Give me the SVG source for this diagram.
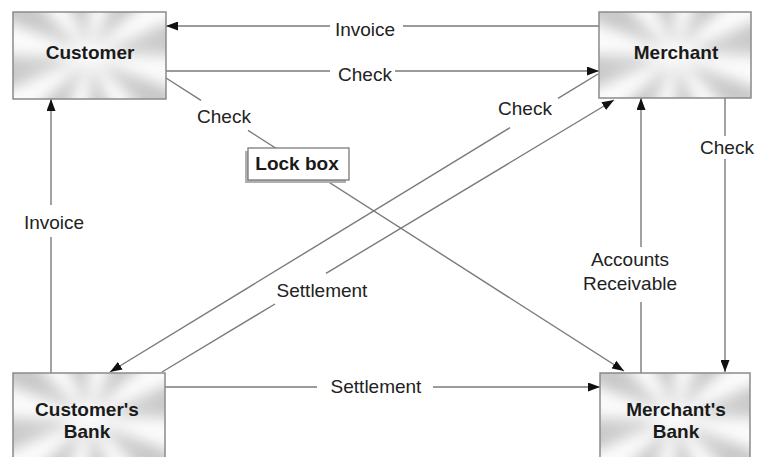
<svg xmlns="http://www.w3.org/2000/svg" xmlns:xlink="http://www.w3.org/1999/xlink" width="757" height="457" viewBox="0 0 757 457">
<style>
  .base{fill:#c9c9c9}
  .ray{fill:#fbfbfb}
  .frame{fill:none;stroke:#8a8a8a;stroke-width:1.5}
  .node{font-family:"Liberation Sans",Arial,sans-serif;font-weight:bold;font-size:19px;fill:#1a1a1a;text-anchor:middle}
  .lbl{font-family:"Liberation Sans",Arial,sans-serif;font-size:19px;fill:#222;text-anchor:middle}
  .ln{stroke:#7a7a7a;stroke-width:1.4;fill:none}
</style>
<defs>
  <filter id="soft" x="-30%" y="-30%" width="160%" height="160%"><feGaussianBlur stdDeviation="6.5"/></filter>
  <radialGradient id="glow" cx="50%" cy="50%" r="55%">
    <stop offset="0" stop-color="#ffffff" stop-opacity="0.9"/>
    <stop offset="0.45" stop-color="#ffffff" stop-opacity="0.25"/>
    <stop offset="1" stop-color="#ffffff" stop-opacity="0"/>
  </radialGradient>
  <path id="rays" d="M0,0 L110,0 L101.6,42.1 Z M0,0 L77.8,77.8 L42.1,101.6 Z M0,0 L0,110 L-42.1,101.6 Z M0,0 L-77.8,77.8 L-101.6,42.1 Z M0,0 L-110,0 L-101.6,-42.1 Z M0,0 L-77.8,-77.8 L-42.1,-101.6 Z M0,0 L0,-110 L42.1,-101.6 Z M0,0 L77.8,-77.8 L101.6,-42.1 Z"/>
  <clipPath id="c1"><rect x="13" y="12" width="153" height="87"/></clipPath>
  <clipPath id="c2"><rect x="599" y="12" width="152" height="86"/></clipPath>
  <clipPath id="c3"><rect x="13" y="373" width="152" height="90"/></clipPath>
  <clipPath id="c4"><rect x="600" y="373" width="150" height="90"/></clipPath>
  <marker id="ah" markerUnits="userSpaceOnUse" markerWidth="12" markerHeight="9" viewBox="0 0 12 9" refX="12" refY="4.5" orient="auto">
    <path d="M0,0 L12,4.5 L0,9 Z" fill="#111"/>
  </marker>
</defs>

<rect x="0" y="0" width="757" height="457" fill="#ffffff"/>

<g id="connectors">
  <line class="ln" x1="599" y1="26" x2="403" y2="26"/>
  <line class="ln" x1="330" y1="26" x2="166" y2="26" marker-end="url(#ah)"/>
  <text class="lbl" x="365" y="35.5">Invoice</text>

  <line class="ln" x1="166" y1="71" x2="330" y2="71"/>
  <line class="ln" x1="395" y1="71" x2="599" y2="71" marker-end="url(#ah)"/>
  <text class="lbl" x="365" y="80.5">Check</text>

  <line class="ln" x1="166" y1="78" x2="201" y2="100.4"/>
  <line class="ln" x1="248" y1="130.4" x2="624" y2="371" marker-end="url(#ah)"/>
  <text class="lbl" x="224" y="122.5">Check</text>

  <line class="ln" x1="598" y1="74" x2="558" y2="98.4"/>
  <line class="ln" x1="510" y1="127.7" x2="110" y2="372" marker-end="url(#ah)"/>
  <text class="lbl" x="525" y="115">Check</text>

  <line class="ln" x1="162" y1="372" x2="275" y2="304"/>
  <line class="ln" x1="326" y1="273.3" x2="614" y2="100" marker-end="url(#ah)"/>
  <text class="lbl" x="322" y="297">Settlement</text>

  <line class="ln" x1="51" y1="373" x2="51" y2="237"/>
  <line class="ln" x1="51" y1="205" x2="51" y2="99" marker-end="url(#ah)"/>
  <text class="lbl" x="54" y="228.5">Invoice</text>

  <line class="ln" x1="725" y1="98" x2="725" y2="136"/>
  <line class="ln" x1="725" y1="159" x2="725" y2="372" marker-end="url(#ah)"/>
  <text class="lbl" x="727" y="154">Check</text>

  <line class="ln" x1="641" y1="373" x2="641" y2="302"/>
  <line class="ln" x1="641" y1="247" x2="641" y2="98" marker-end="url(#ah)"/>
  <text class="lbl" x="630" y="266">Accounts</text>
  <text class="lbl" x="630" y="290">Receivable</text>

  <line class="ln" x1="165" y1="387" x2="317" y2="387"/>
  <line class="ln" x1="433" y1="387" x2="600" y2="387" marker-end="url(#ah)"/>
  <text class="lbl" x="376" y="393">Settlement</text>
</g>

<g id="customer">
  <g clip-path="url(#c1)">
    <rect class="base" x="13" y="12" width="153" height="87"/>
    <use xlink:href="#rays" href="#rays" class="ray" transform="translate(89.5,55.5)" filter="url(#soft)"/>
    <rect fill="url(#glow)" x="13" y="12" width="153" height="87"/>
  </g>
  <rect class="frame" x="13" y="12" width="153" height="87"/>
  <text class="node" x="90" y="59">Customer</text>
</g>

<g id="merchant">
  <g clip-path="url(#c2)">
    <rect class="base" x="599" y="12" width="152" height="86"/>
    <use xlink:href="#rays" href="#rays" class="ray" transform="translate(675,55)" filter="url(#soft)"/>
    <rect fill="url(#glow)" x="599" y="12" width="152" height="86"/>
  </g>
  <rect class="frame" x="599" y="12" width="152" height="86"/>
  <text class="node" x="676" y="59">Merchant</text>
</g>

<g id="customers-bank">
  <g clip-path="url(#c3)">
    <rect class="base" x="13" y="373" width="152" height="90"/>
    <use xlink:href="#rays" href="#rays" class="ray" transform="translate(89,418)" filter="url(#soft)"/>
    <rect fill="url(#glow)" x="13" y="373" width="152" height="90"/>
  </g>
  <rect class="frame" x="13" y="373" width="152" height="90"/>
  <text class="node" x="87" y="416">Customer's</text>
  <text class="node" x="87" y="438">Bank</text>
</g>

<g id="merchants-bank">
  <g clip-path="url(#c4)">
    <rect class="base" x="600" y="373" width="150" height="90"/>
    <use xlink:href="#rays" href="#rays" class="ray" transform="translate(675,418)" filter="url(#soft)"/>
    <rect fill="url(#glow)" x="600" y="373" width="150" height="90"/>
  </g>
  <rect class="frame" x="600" y="373" width="150" height="90"/>
  <text class="node" x="676" y="416">Merchant's</text>
  <text class="node" x="676" y="438">Bank</text>
</g>

<g id="lockbox">
  <rect x="245" y="151" width="101" height="32" fill="#b0b0b0"/>
  <rect x="248" y="148" width="101" height="32" fill="#ffffff" stroke="#7a7a7a" stroke-width="1.3"/>
  <text class="node" x="297" y="170">Lock box</text>
</g>
</svg>
